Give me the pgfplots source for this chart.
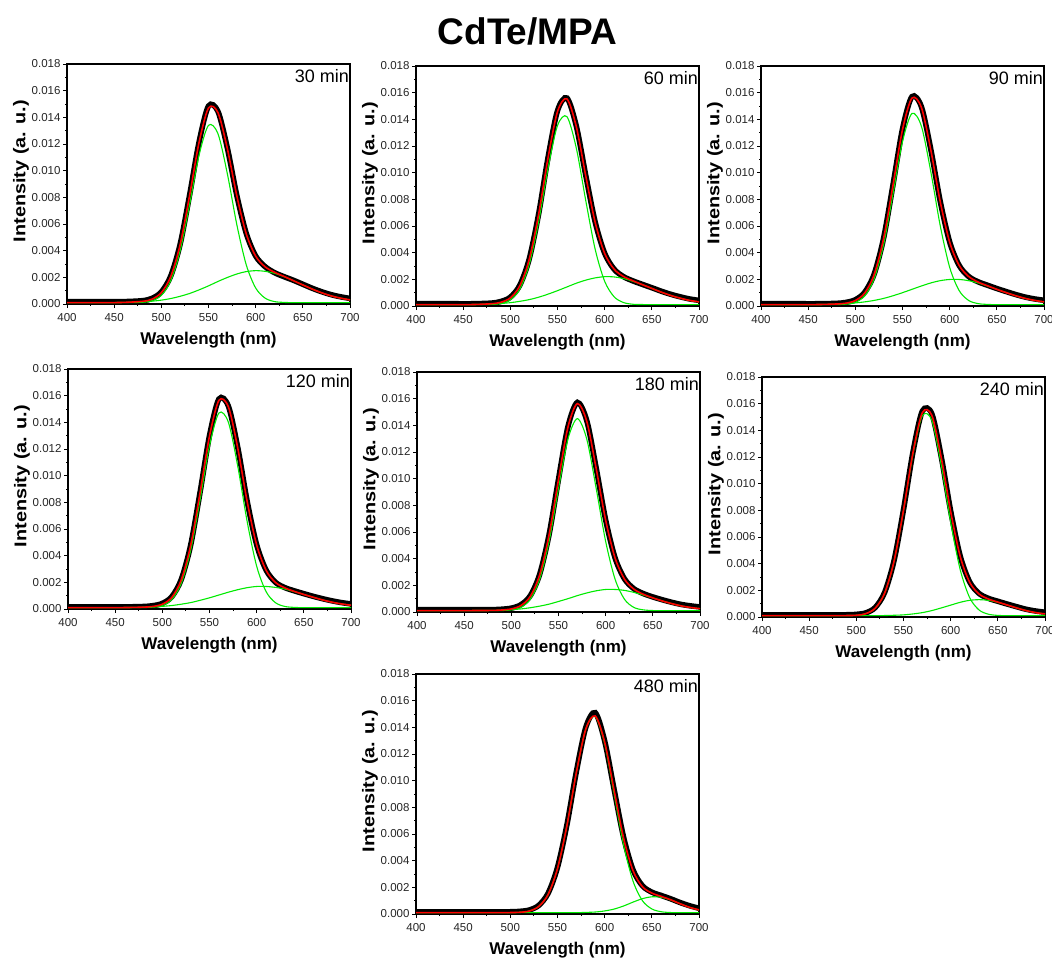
\documentclass[border=0pt]{standalone}
\usepackage{fontspec}
\setmainfont{Liberation Sans}
\usepackage{graphicx}
\usepackage{pgfplots}
\pgfplotsset{compat=1.18}
\usepackage{pgfplotstable}
\definecolor{fitgreen}{RGB}{0,235,0}
\definecolor{fitred}{RGB}{255,0,0}

% columns: wavelength, component 1, component 2, cumulative fit, measured data
\pgfplotstableread{
x g1 g2 fit dat
400 0.00010 0.00010 0.00010 0.00017
420 0.00010 0.00010 0.00010 0.00017
440 0.00010 0.00010 0.00010 0.00017
460 0.00010 0.00012 0.00012 0.00018
480 0.00013 0.00016 0.00020 0.00025
490 0.00025 0.00021 0.00036 0.00042
500 0.00065 0.00029 0.00085 0.00090
510 0.00175 0.00041 0.00206 0.00210
520 0.00400 0.00058 0.00447 0.00450
530 0.00746 0.00079 0.00815 0.00818
540 0.01116 0.00106 0.01212 0.01215
550 0.01340 0.00136 0.01470 0.01485
560 0.01278 0.00169 0.01436 0.01445
570 0.00976 0.00199 0.01165 0.01170
580 0.00596 0.00225 0.00812 0.00815
590 0.00294 0.00243 0.00527 0.00530
600 0.00120 0.00250 0.00359 0.00360
610 0.00044 0.00245 0.00279 0.00280
620 0.00018 0.00230 0.00238 0.00235
630 0.00012 0.00205 0.00207 0.00205
640 0.00010 0.00175 0.00175 0.00178
650 0.00010 0.00143 0.00143 0.00148
660 0.00010 0.00112 0.00112 0.00118
670 0.00010 0.00084 0.00084 0.00092
680 0.00010 0.00061 0.00061 0.00070
690 0.00010 0.00044 0.00044 0.00054
700 0.00010 0.00031 0.00031 0.00042
}\tA

\pgfplotstableread{
x g1 g2 fit dat
400 0.00010 0.00010 0.00010 0.00017
420 0.00010 0.00010 0.00010 0.00017
440 0.00010 0.00010 0.00010 0.00017
460 0.00010 0.00011 0.00011 0.00017
480 0.00012 0.00015 0.00017 0.00022
490 0.00019 0.00019 0.00028 0.00034
500 0.00046 0.00025 0.00061 0.00066
510 0.00126 0.00035 0.00151 0.00155
520 0.00311 0.00048 0.00349 0.00352
530 0.00631 0.00066 0.00688 0.00690
540 0.01033 0.00089 0.01112 0.01115
550 0.01353 0.00115 0.01458 0.01465
560 0.01420 0.00143 0.01553 0.01560
570 0.01182 0.00171 0.01343 0.01348
580 0.00789 0.00194 0.00974 0.00978
590 0.00423 0.00211 0.00625 0.00628
600 0.00185 0.00220 0.00394 0.00395
610 0.00069 0.00218 0.00276 0.00276
620 0.00026 0.00206 0.00221 0.00220
630 0.00013 0.00185 0.00189 0.00188
640 0.00011 0.00160 0.00160 0.00162
650 0.00010 0.00132 0.00132 0.00137
660 0.00010 0.00104 0.00104 0.00111
670 0.00010 0.00079 0.00079 0.00088
680 0.00010 0.00059 0.00059 0.00069
690 0.00010 0.00042 0.00042 0.00053
700 0.00010 0.00031 0.00031 0.00042
}\tB

\pgfplotstableread{
x g1 g2 fit dat
400 0.00010 0.00010 0.00010 0.00017
420 0.00010 0.00010 0.00010 0.00017
440 0.00010 0.00010 0.00010 0.00017
460 0.00010 0.00011 0.00011 0.00017
480 0.00011 0.00014 0.00015 0.00020
490 0.00014 0.00017 0.00021 0.00027
500 0.00028 0.00023 0.00041 0.00047
510 0.00077 0.00031 0.00098 0.00103
520 0.00205 0.00042 0.00237 0.00240
530 0.00461 0.00057 0.00508 0.00510
540 0.00842 0.00077 0.00909 0.00912
550 0.01233 0.00100 0.01323 0.01328
560 0.01444 0.00125 0.01559 0.01570
570 0.01349 0.00150 0.01490 0.01495
580 0.01007 0.00173 0.01170 0.01175
590 0.00602 0.00190 0.00782 0.00785
600 0.00290 0.00199 0.00479 0.00480
610 0.00116 0.00199 0.00305 0.00305
620 0.00042 0.00190 0.00222 0.00222
630 0.00018 0.00173 0.00180 0.00182
640 0.00012 0.00150 0.00152 0.00156
650 0.00010 0.00125 0.00125 0.00131
660 0.00010 0.00100 0.00100 0.00108
670 0.00010 0.00077 0.00077 0.00086
680 0.00010 0.00057 0.00057 0.00067
690 0.00010 0.00042 0.00042 0.00053
700 0.00010 0.00031 0.00031 0.00043
}\tC

\pgfplotstableread{
x g1 g2 fit dat
400 0.00010 0.00010 0.00010 0.00016
420 0.00010 0.00010 0.00010 0.00016
440 0.00010 0.00010 0.00010 0.00016
460 0.00010 0.00011 0.00011 0.00016
480 0.00011 0.00013 0.00014 0.00019
490 0.00014 0.00016 0.00019 0.00025
500 0.00026 0.00020 0.00036 0.00042
510 0.00071 0.00026 0.00087 0.00092
520 0.00191 0.00036 0.00217 0.00220
530 0.00438 0.00048 0.00476 0.00478
540 0.00817 0.00065 0.00872 0.00875
550 0.01224 0.00084 0.01297 0.01300
560 0.01470 0.00105 0.01565 0.01575
570 0.01401 0.00126 0.01517 0.01522
580 0.01069 0.00145 0.01205 0.01210
590 0.00653 0.00160 0.00803 0.00806
600 0.00321 0.00169 0.00480 0.00482
610 0.00130 0.00169 0.00290 0.00292
620 0.00047 0.00162 0.00199 0.00200
630 0.00019 0.00149 0.00158 0.00160
640 0.00012 0.00130 0.00132 0.00136
650 0.00010 0.00109 0.00109 0.00115
660 0.00010 0.00088 0.00088 0.00095
670 0.00010 0.00068 0.00068 0.00077
680 0.00010 0.00051 0.00051 0.00061
690 0.00010 0.00038 0.00038 0.00048
700 0.00010 0.00028 0.00028 0.00038
}\tD

\pgfplotstableread{
x g1 g2 fit dat
400 0.00010 0.00010 0.00010 0.00017
420 0.00010 0.00010 0.00010 0.00017
440 0.00010 0.00010 0.00010 0.00017
460 0.00010 0.00011 0.00011 0.00017
480 0.00010 0.00012 0.00012 0.00018
490 0.00011 0.00014 0.00015 0.00021
500 0.00016 0.00018 0.00023 0.00029
510 0.00034 0.00023 0.00048 0.00054
520 0.00095 0.00032 0.00116 0.00121
530 0.00245 0.00044 0.00278 0.00282
540 0.00529 0.00059 0.00578 0.00580
550 0.00925 0.00079 0.00994 0.00996
560 0.01296 0.00100 0.01386 0.01390
570 0.01450 0.00123 0.01563 0.01572
580 0.01296 0.00143 0.01429 0.01435
590 0.00925 0.00159 0.01074 0.01078
600 0.00529 0.00169 0.00688 0.00690
610 0.00245 0.00169 0.00404 0.00405
620 0.00095 0.00162 0.00246 0.00248
630 0.00034 0.00147 0.00171 0.00174
640 0.00016 0.00127 0.00133 0.00138
650 0.00011 0.00105 0.00106 0.00113
660 0.00010 0.00083 0.00083 0.00092
670 0.00010 0.00063 0.00063 0.00073
680 0.00010 0.00046 0.00046 0.00057
690 0.00010 0.00034 0.00034 0.00046
700 0.00010 0.00025 0.00025 0.00038
}\tE

\pgfplotstableread{
x g1 g2 fit dat
400 0.00010 0.00010 0.00010 0.00016
420 0.00010 0.00010 0.00010 0.00016
440 0.00010 0.00010 0.00010 0.00016
460 0.00010 0.00010 0.00010 0.00016
480 0.00010 0.00010 0.00010 0.00016
490 0.00011 0.00010 0.00011 0.00017
500 0.00013 0.00010 0.00013 0.00020
510 0.00025 0.00010 0.00025 0.00031
520 0.00065 0.00010 0.00066 0.00071
530 0.00178 0.00011 0.00179 0.00184
540 0.00417 0.00013 0.00420 0.00424
550 0.00796 0.00016 0.00802 0.00805
560 0.01219 0.00023 0.01232 0.01236
570 0.01510 0.00033 0.01533 0.01545
580 0.01475 0.00048 0.01513 0.01525
590 0.01140 0.00068 0.01197 0.01202
600 0.00712 0.00089 0.00791 0.00795
610 0.00358 0.00110 0.00457 0.00460
620 0.00147 0.00125 0.00262 0.00265
630 0.00053 0.00130 0.00173 0.00177
640 0.00021 0.00125 0.00135 0.00140
650 0.00012 0.00110 0.00112 0.00118
660 0.00010 0.00089 0.00090 0.00097
670 0.00010 0.00068 0.00068 0.00077
680 0.00010 0.00048 0.00048 0.00058
690 0.00010 0.00033 0.00033 0.00045
700 0.00010 0.00023 0.00023 0.00036
}\tF

\pgfplotstableread{
x g1 g2 fit dat
400 0.00010 0.00010 0.00010 0.00016
420 0.00010 0.00010 0.00010 0.00016
440 0.00010 0.00010 0.00010 0.00016
460 0.00010 0.00010 0.00010 0.00016
480 0.00010 0.00010 0.00010 0.00016
490 0.00010 0.00010 0.00010 0.00016
500 0.00010 0.00010 0.00011 0.00017
510 0.00013 0.00010 0.00013 0.00020
520 0.00022 0.00010 0.00022 0.00030
530 0.00056 0.00010 0.00056 0.00064
540 0.00146 0.00010 0.00146 0.00155
550 0.00341 0.00010 0.00341 0.00350
560 0.00664 0.00010 0.00664 0.00670
570 0.01062 0.00010 0.01062 0.01068
580 0.01386 0.00012 0.01388 0.01400
590 0.01480 0.00015 0.01485 0.01510
600 0.01277 0.00023 0.01290 0.01298
610 0.00902 0.00037 0.00929 0.00935
620 0.00520 0.00060 0.00571 0.00578
630 0.00248 0.00089 0.00326 0.00332
640 0.00100 0.00115 0.00205 0.00212
650 0.00038 0.00129 0.00157 0.00164
660 0.00017 0.00125 0.00132 0.00139
670 0.00011 0.00105 0.00107 0.00114
680 0.00010 0.00077 0.00077 0.00086
690 0.00010 0.00050 0.00050 0.00062
700 0.00010 0.00031 0.00031 0.00043
}\tG

\pgfplotsset{
  panel/.style={
    scale only axis, width=283pt, height=240pt,
    xmin=400, xmax=700, ymin=0, ymax=0.018,
    xtick={400,450,500,550,600,650,700},
    ytick={0,0.002,0.004,0.006,0.008,0.010,0.012,0.014,0.016,0.018},
    minor x tick num=1, minor y tick num=1,
    xtick pos=bottom, ytick pos=left, tick align=outside,
    major tick length=4pt, minor tick length=2pt,
    axis line style={line width=1.1pt},
    tick style={black, line width=0.9pt},
    scaled y ticks=false,
    /pgf/number format/assume math mode=true,
    yticklabel style={/pgf/number format/.cd, fixed, fixed zerofill, precision=3, /tikz/.cd,
      font=\fontsize{11.5}{13}\selectfont, text=black!85, xshift=1pt},
    xticklabel style={font=\fontsize{11.5}{13}\selectfont, text=black!85, yshift=-2pt},
    xlabel={Wavelength (nm)},
    ylabel={\scalebox{1.17}[1]{Intensity (a. u.)}},
    xlabel style={at={(axis description cs:0.5,-0.152)}, anchor=center,
      font=\bfseries\fontsize{17}{20}\selectfont},
    ylabel style={at={(axis description cs:-0.163,0.554)}, anchor=center,
      font=\bfseries\fontsize{17}{20}\selectfont},
  },
  dataline/.style={black, line width=5.5pt, smooth},
  compline/.style={fitgreen, line width=1.1pt, smooth},
  fitline/.style={fitred, line width=1.6pt, smooth},
}

\newcommand{\panellabel}[1]{\node[anchor=north east, inner sep=0pt,
  font=\fontsize{18}{20}\selectfont] at (rel axis cs:1,1) [xshift=-1pt, yshift=-5pt] {#1};}

\begin{document}
\begin{tikzpicture}
\useasboundingbox (0pt,0pt) rectangle (1052pt,-963pt);
\node[anchor=base, font=\bfseries\fontsize{37}{40}\selectfont] at (527.5pt,-45pt) {CdTe/MPA};

\begin{axis}[panel, at={(67pt,-304pt)}, anchor=south west]
\addplot[dataline] table[x=x, y=dat] {\tA};
\addplot[compline] table[x=x, y=g1] {\tA};
\addplot[compline] table[x=x, y=g2] {\tA};
\addplot[fitline] table[x=x, y=fit] {\tA};
\panellabel{30 min}
\end{axis}

\begin{axis}[panel, at={(416pt,-306pt)}, anchor=south west]
\addplot[dataline] table[x=x, y=dat] {\tB};
\addplot[compline] table[x=x, y=g1] {\tB};
\addplot[compline] table[x=x, y=g2] {\tB};
\addplot[fitline] table[x=x, y=fit] {\tB};
\panellabel{60 min}
\end{axis}

\begin{axis}[panel, at={(761pt,-306pt)}, anchor=south west]
\addplot[dataline] table[x=x, y=dat] {\tC};
\addplot[compline] table[x=x, y=g1] {\tC};
\addplot[compline] table[x=x, y=g2] {\tC};
\addplot[fitline] table[x=x, y=fit] {\tC};
\panellabel{90 min}
\end{axis}

\begin{axis}[panel, at={(68pt,-609pt)}, anchor=south west]
\addplot[dataline] table[x=x, y=dat] {\tD};
\addplot[compline] table[x=x, y=g1] {\tD};
\addplot[compline] table[x=x, y=g2] {\tD};
\addplot[fitline] table[x=x, y=fit] {\tD};
\panellabel{120 min}
\end{axis}

\begin{axis}[panel, at={(417pt,-612pt)}, anchor=south west]
\addplot[dataline] table[x=x, y=dat] {\tE};
\addplot[compline] table[x=x, y=g1] {\tE};
\addplot[compline] table[x=x, y=g2] {\tE};
\addplot[fitline] table[x=x, y=fit] {\tE};
\panellabel{180 min}
\end{axis}

\begin{axis}[panel, at={(762pt,-617pt)}, anchor=south west]
\addplot[dataline] table[x=x, y=dat] {\tF};
\addplot[compline] table[x=x, y=g1] {\tF};
\addplot[compline] table[x=x, y=g2] {\tF};
\addplot[fitline] table[x=x, y=fit] {\tF};
\panellabel{240 min}
\end{axis}

\begin{axis}[panel, at={(416pt,-914pt)}, anchor=south west]
\addplot[dataline] table[x=x, y=dat] {\tG};
\addplot[compline] table[x=x, y=g1] {\tG};
\addplot[compline] table[x=x, y=g2] {\tG};
\addplot[fitline] table[x=x, y=fit] {\tG};
\panellabel{480 min}
\end{axis}
\end{tikzpicture}
\end{document}
